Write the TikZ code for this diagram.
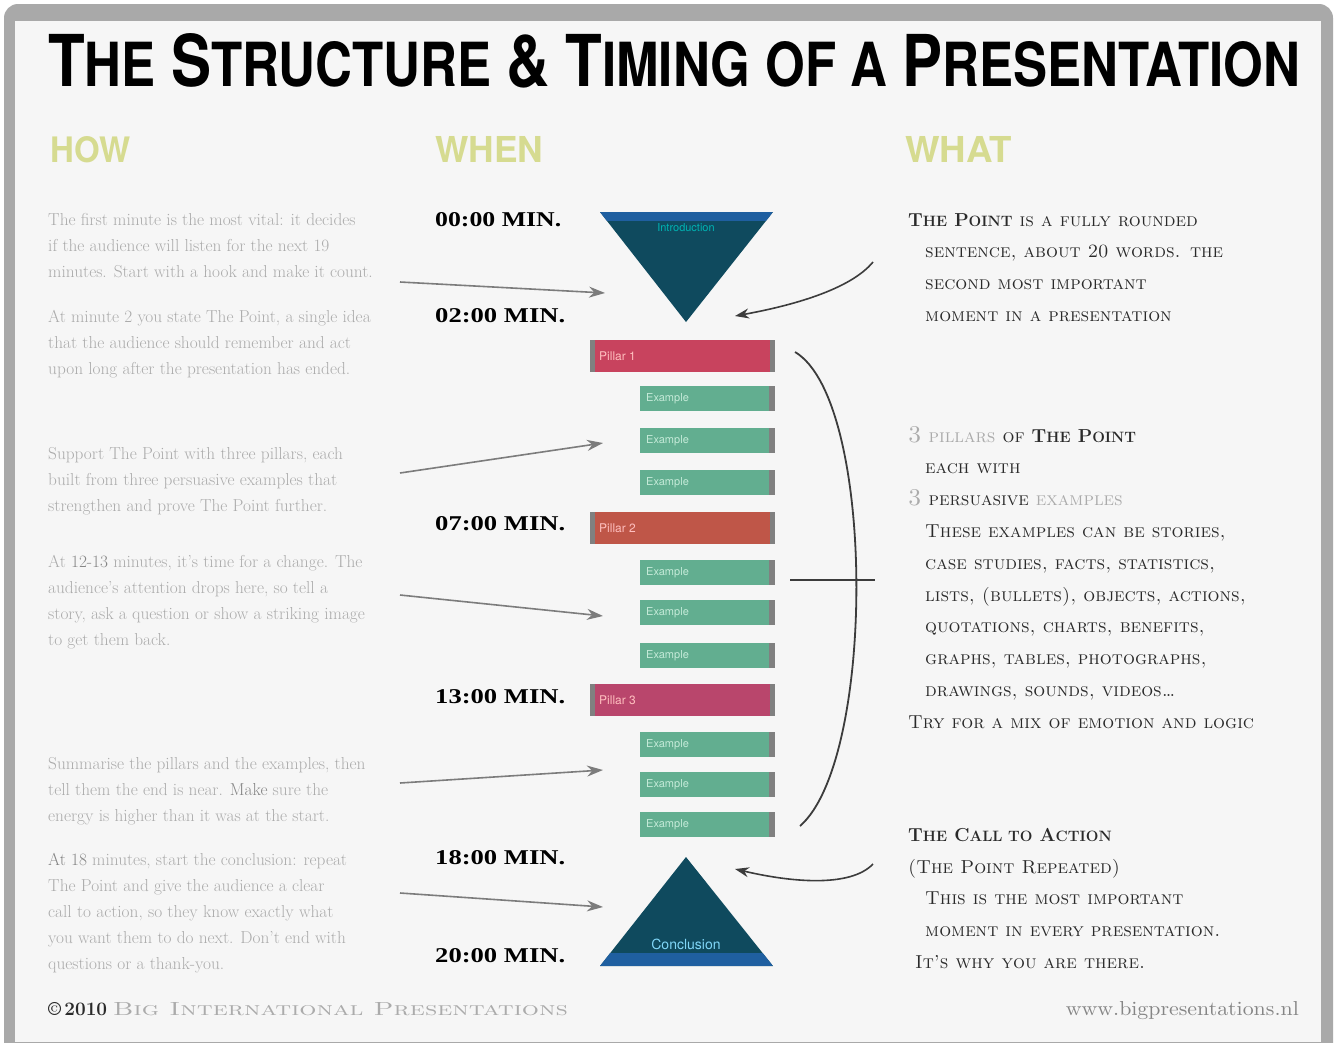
\documentclass[tikz,border=0pt]{standalone}
\usepackage{fontspec}
\usepackage{graphicx}
\usetikzlibrary{arrows.meta}
\newfontfamily\heros{TeX Gyre Heros}
\newfontfamily\tnr{Liberation Serif}
\definecolor{bgc}{HTML}{F6F6F6}
\definecolor{framec}{HTML}{A9A9A9}
\definecolor{hdr}{HTML}{D6DB90}
\definecolor{lg}{HTML}{ABABAB}
\definecolor{mg}{HTML}{858585}
\definecolor{dg}{HTML}{2A2A2A}
\definecolor{arrc}{HTML}{7C7C7C}
\definecolor{dk}{HTML}{3C3C3C}
\definecolor{tri}{HTML}{0F4A5E}
\definecolor{band}{HTML}{1F5FA0}
\definecolor{redA}{HTML}{C8435E}
\definecolor{redB}{HTML}{BF5648}
\definecolor{redC}{HTML}{B9466C}
\definecolor{grn}{HTML}{62AE90}
\definecolor{grnl}{HTML}{C4EAD8}
\definecolor{endg}{HTML}{808080}
\newcommand\bsc[2]{{\bfseries\upshape #1{\fontsize{15}{31.8}\selectfont #2}}}
\newcommand\tbig[1]{{\fontsize{60}{60}\selectfont #1}}
\newcommand\tsm[1]{{\fontsize{51}{60}\selectfont #1}}
\begin{document}
\begin{tikzpicture}[x=1pt,y=-1pt,
  ltext/.style={anchor=north west, inner sep=0, align=left, text=lg, font=\fontsize{17.3}{26}\selectfont},
  rtext/.style={anchor=north west, inner sep=0, align=left, text=dg, font=\fontsize{18.8}{31.8}\selectfont\scshape\addfontfeature{LetterSpace=5}},
  timelbl/.style={anchor=south west, inner sep=0},
  redbar/.style={anchor=north west, inner sep=0, minimum width=185, minimum height=32},
  greenbar/.style={anchor=north west, inner sep=0, minimum width=135, minimum height=25, fill=grn},
  barlbl/.style={anchor=west, inner sep=0, font=\heros\fontsize{12}{12}\selectfont},
  larrow/.style={draw=arrc, line width=1.6, -{Stealth[length=16pt,width=11pt]}},
  rarrow/.style={draw=dk, line width=1.6, -{Stealth[length=14pt,width=10pt]}},
  rline/.style={draw=dk, line width=1.8},
  hdrtext/.style={anchor=north west, inner sep=0, text=hdr}
]
\useasboundingbox (0,0) rectangle (1335,1042);
\fill[white] (0,0) rectangle (1335,1042);
\fill[framec, rounded corners=14] (4,4) rectangle (1333,1070);
\fill[bgc] (15,21) rectangle (1321,1042);

% title
\node[anchor=north west, inner sep=0] (title) at (48,33)
  {\resizebox{1252pt}{53pt}{\heros\bfseries\fontsize{55}{60}\selectfont
   \tbig{T}\tsm{HE} \tbig{S}\tsm{TRUCTURE} \tbig{\&} \tbig{T}\tsm{IMING} \tsm{OF A} \tbig{P}\tsm{RESENTATION}}};

% headers
\node[hdrtext] (how) at (50,136) {\resizebox{80pt}{26pt}{\heros\bfseries HOW}};
\node[hdrtext] (when) at (435,136) {\resizebox{108pt}{26pt}{\heros\bfseries WHEN}};
\node[hdrtext] (what) at (905,136) {\resizebox{107pt}{26pt}{\heros\bfseries WHAT}};

% left texts
\node[ltext] (l1) at (48,213) {The first minute is the most vital: it decides\\if the audience will listen for the next 19\\minutes. Start with a hook and make it count.};
\node[ltext] (l2) at (48,310) {At minute 2 you state The Point, a single idea\\that the audience should remember and act\\upon long after the presentation has ended.};
\node[ltext] (l3) at (48,447) {Support The Point with three pillars, each\\built from three persuasive examples that\\strengthen and prove The Point further.};
\node[ltext] (l4) at (48,555) {At {\color{mg}12-13} minutes, it's time for a change. The\\audience's attention drops here, so tell a\\story, ask a question or show a striking image\\to get them back.};
\node[ltext] (l5) at (48,757) {Summarise the pillars and the examples, then\\tell them the end is near. {\color{mg}Make} sure the\\energy is higher than it was at the start.};
\node[ltext] (l6) at (48,853) {{\color{mg}At 18} minutes, start the conclusion: repeat\\The Point and give the audience a clear\\call to action, so they know exactly what\\you want them to do next. Don't end with\\questions or a thank-you.};

% footers
\node[anchor=base west, inner sep=0, font=\fontsize{19}{19}\selectfont] (fl) at (48,1015)
  {{\color{dg}\textbf{©\,2010}}\ \resizebox{455pt}{13pt}{\color{lg}\scshape Big International Presentations}};
\node[anchor=base east, inner sep=0, text=mg] (fr) at (1299,1015) {\resizebox{233pt}{14pt}{www.bigpresentations.nl}};

% time labels
\node[timelbl] (t0) at (435,227) {\resizebox{126pt}{14pt}{\tnr\bfseries 00:00 MIN.}};
\node[timelbl] (t2) at (435,323) {\resizebox{130pt}{14pt}{\tnr\bfseries 02:00 MIN.}};
\node[timelbl] (t7) at (435,531) {\resizebox{130pt}{14pt}{\tnr\bfseries 07:00 MIN.}};
\node[timelbl] (t13) at (435,704) {\resizebox{130pt}{14pt}{\tnr\bfseries 13:00 MIN.}};
\node[timelbl] (t18) at (435,865) {\resizebox{130pt}{14pt}{\tnr\bfseries 18:00 MIN.}};
\node[timelbl] (t20) at (435,963) {\resizebox{130pt}{14pt}{\tnr\bfseries 20:00 MIN.}};

% top triangle
\coordinate (ta) at (600,212);
\coordinate (tb) at (773,212);
\coordinate (tc) at (686,322);
\fill[tri] (ta) -- (tb) -- (tc) -- cycle;
\begin{scope}
  \clip (ta) -- (tb) -- (tc) -- cycle;
  \fill[band] (600,212) rectangle (773,221);
\end{scope}
\node[inner sep=0, font=\heros\fontsize{11}{11}\selectfont, text=teal!60!cyan] (intro) at (686,228) {Introduction};

% bottom triangle
\coordinate (ba) at (600,966);
\coordinate (bb) at (773,966);
\coordinate (bc) at (686,857);
\fill[tri] (ba) -- (bb) -- (bc) -- cycle;
\begin{scope}
  \clip (ba) -- (bb) -- (bc) -- cycle;
  \fill[band] (600,953) rectangle (773,966);
\end{scope}
\node[inner sep=0, font=\heros\fontsize{14}{14}\selectfont, text=cyan!50!white] (concl) at (686,944) {Conclusion};

% pillar bars
\node[redbar, fill=redA] (p1) at (590,340) {};
\node[redbar, fill=redB] (p2) at (590,512) {};
\node[redbar, fill=redC] (p3) at (590,684) {};
\foreach \p in {p1,p2,p3}{
  \fill[endg] (\p.north west) rectangle ([xshift=5pt]\p.south west);
  \fill[endg] ([xshift=-5pt]\p.north east) rectangle (\p.south east);
}
\node[barlbl, text=red!25!white] (p1l) at ([xshift=9pt]p1.west) {Pillar 1};
\node[barlbl, text=red!25!white] (p2l) at ([xshift=9pt]p2.west) {Pillar 2};
\node[barlbl, text=red!25!white] (p3l) at ([xshift=9pt]p3.west) {Pillar 3};

% example bars
\node[greenbar] (e11) at (640,386) {};
\node[greenbar] (e12) at (640,428) {};
\node[greenbar] (e13) at (640,470) {};
\node[greenbar] (e21) at (640,560) {};
\node[greenbar] (e22) at (640,600) {};
\node[greenbar] (e23) at (640,643) {};
\node[greenbar] (e31) at (640,732) {};
\node[greenbar] (e32) at (640,772) {};
\node[greenbar] (e33) at (640,812) {};
\foreach \e in {e11,e12,e13,e21,e22,e23,e31,e32,e33}{
  \fill[endg] ([xshift=-6pt]\e.north east) rectangle (\e.south east);
  \node[barlbl, text=grnl, font=\heros\fontsize{11}{11}\selectfont] at ([xshift=6pt]\e.west) {Example};
}

% right texts
\node[rtext] (w1) at (908,213) {\bsc{T}{HE} \bsc{P}{OINT} is a fully rounded\\
  \hspace*{17pt}sentence, about 20 words. the\\
  \hspace*{17pt}second most important\\
  \hspace*{17pt}moment in a presentation};
\node[rtext] (w2) at (908,426) {{\color{lg}\fontsize{24}{31.8}\selectfont 3} {\color{lg}pillars} of \bsc{T}{HE} \bsc{P}{OINT}\\
  \hspace*{17pt}each with\\
  {\color{lg}\fontsize{24}{31.8}\selectfont 3} persuasive {\color{lg}examples}\\
  \hspace*{17pt}These examples can be stories,\\
  \hspace*{17pt}case studies, facts, statistics,\\
  \hspace*{17pt}lists, (bullets), objects, actions,\\
  \hspace*{17pt}quotations, charts, benefits,\\
  \hspace*{17pt}graphs, tables, photographs,\\
  \hspace*{17pt}drawings, sounds, videos\ldots\\
  Try for a mix of emotion and logic};
\node[rtext] (w3) at (908,828) {\bsc{T}{HE} \bsc{C}{ALL TO} \bsc{A}{CTION}\\
  (The Point Repeated)\\
  \hspace*{17pt}This is the most important\\
  \hspace*{17pt}moment in every presentation.\\
  \hspace*{7pt}It's why you are there.};

% left arrows
\coordinate (a1s) at (400,282); \coordinate (a1e) at (605,293);
\coordinate (a2s) at (400,473); \coordinate (a2e) at (603,443);
\coordinate (a3s) at (400,595); \coordinate (a3e) at (603,616);
\coordinate (a4s) at (400,783); \coordinate (a4e) at (603,770);
\coordinate (a5s) at (400,893); \coordinate (a5e) at (603,907);
\draw[larrow] (a1s) -- (a1e);
\draw[larrow] (a2s) -- (a2e);
\draw[larrow] (a3s) -- (a3e);
\draw[larrow] (a4s) -- (a4e);
\draw[larrow] (a5s) -- (a5e);

% right arrows and bracket
\coordinate (r1s) at (873,262); \coordinate (r1e) at (735,316);
\draw[rarrow] (r1s) .. controls (850,290) and (790,306) .. (r1e);
\coordinate (r2s) at (873,864); \coordinate (r2e) at (735,869);
\draw[rarrow] (r2s) .. controls (850,888) and (790,882) .. (r2e);
\coordinate (k1) at (795,352); \coordinate (k2) at (800,826);
\draw[rline] (k1) .. controls (876,400) and (876,760) .. (k2);
\coordinate (m1) at (790,580); \coordinate (m2) at (875,580);
\draw[rline] (m1) -- (m2);
\end{tikzpicture}
\end{document}
